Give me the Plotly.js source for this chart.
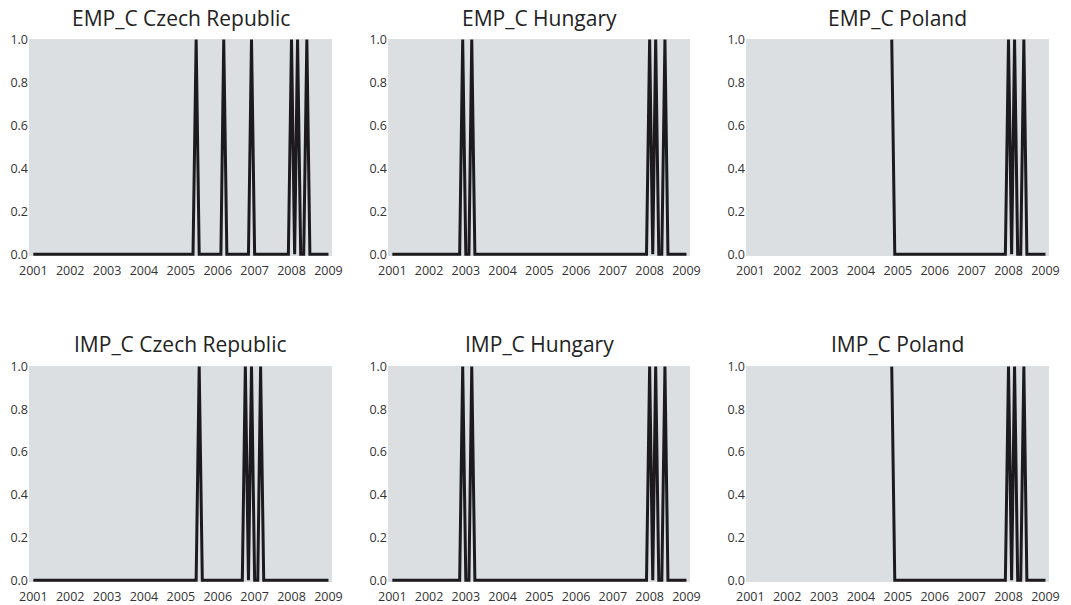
<!DOCTYPE html>
<html>
<head>
<meta charset="utf-8">
<script src="https://cdn.plot.ly/plotly-3.0.1.min.js"></script>
<style>
  html, body { margin: 0; padding: 0; background: #ffffff; }
  #chart { width: 1071px; height: 605px; }
</style>
</head>
<body>
<div id="chart"></div>
<script>
// Monthly crisis indicators (1 = crisis month), Jan 2001 .. Jan 2009, one row per year
const startYear = 2001;
const yearTicks = ['2001', '2002', '2003', '2004', '2005', '2006', '2007', '2008', '2009'];
const yTicks = [0, 0.2, 0.4, 0.6, 0.8, 1.0];

const empCzech = [
  0,0,0,0,0,0,0,0,0,0,0,0,
  0,0,0,0,0,0,0,0,0,0,0,0,
  0,0,0,0,0,0,0,0,0,0,0,0,
  0,0,0,0,0,0,0,0,0,0,0,0,
  0,0,0,0,0,1,0,0,0,0,0,0,
  0,0,1,0,0,0,0,0,0,0,0,1,
  0,0,0,0,0,0,0,0,0,0,0,0,
  1,0,1,0,0,1,0,0,0,0,0,0,
  0
];
const empHungary = [
  0,0,0,0,0,0,0,0,0,0,0,0,
  0,0,0,0,0,0,0,0,0,0,0,1,
  0,0,1,0,0,0,0,0,0,0,0,0,
  0,0,0,0,0,0,0,0,0,0,0,0,
  0,0,0,0,0,0,0,0,0,0,0,0,
  0,0,0,0,0,0,0,0,0,0,0,0,
  0,0,0,0,0,0,0,0,0,0,0,0,
  1,0,1,0,0,1,0,0,0,0,0,0,
  0
];
const empPoland = [
  null,null,null,null,null,null,null,null,null,null,null,null,
  null,null,null,null,null,null,null,null,null,null,null,null,
  null,null,null,null,null,null,null,null,null,null,null,null,
  null,null,null,null,null,null,null,null,null,null,1,0,
  0,0,0,0,0,0,0,0,0,0,0,0,
  0,0,0,0,0,0,0,0,0,0,0,0,
  0,0,0,0,0,0,0,0,0,0,0,0,
  1,0,1,0,0,1,0,0,0,0,0,0,
  0
];
const impCzech = [
  0,0,0,0,0,0,0,0,0,0,0,0,
  0,0,0,0,0,0,0,0,0,0,0,0,
  0,0,0,0,0,0,0,0,0,0,0,0,
  0,0,0,0,0,0,0,0,0,0,0,0,
  0,0,0,0,0,0,1,0,0,0,0,0,
  0,0,0,0,0,0,0,0,0,1,0,1,
  0,0,1,0,0,0,0,0,0,0,0,0,
  0,0,0,0,0,0,0,0,0,0,0,0,
  0
];
const impHungary = [
  0,0,0,0,0,0,0,0,0,0,0,0,
  0,0,0,0,0,0,0,0,0,0,0,1,
  0,0,1,0,0,0,0,0,0,0,0,0,
  0,0,0,0,0,0,0,0,0,0,0,0,
  0,0,0,0,0,0,0,0,0,0,0,0,
  0,0,0,0,0,0,0,0,0,0,0,0,
  0,0,0,0,0,0,0,0,0,0,0,0,
  1,0,1,0,0,1,0,0,0,0,0,0,
  0
];
const impPoland = [
  null,null,null,null,null,null,null,null,null,null,null,null,
  null,null,null,null,null,null,null,null,null,null,null,null,
  null,null,null,null,null,null,null,null,null,null,null,null,
  null,null,null,null,null,null,null,null,null,null,1,0,
  0,0,0,0,0,0,0,0,0,0,0,0,
  0,0,0,0,0,0,0,0,0,0,0,0,
  0,0,0,0,0,0,0,0,0,0,0,0,
  1,0,1,0,0,1,0,0,0,0,0,0,
  0
];

const panelTitles = [
  'EMP_C Czech Republic', 'EMP_C Hungary', 'EMP_C Poland',
  'IMP_C Czech Republic', 'IMP_C Hungary', 'IMP_C Poland'
];
const panelSeries = [empCzech, empHungary, empPoland, impCzech, impHungary, impPoland];

// month-start dates for the series
const months = [];
for (let i = 0; i < empCzech.length; i++) {
  const y = startYear + Math.floor(i / 12);
  const m = (i % 12) + 1;
  months.push(y + '-' + String(m).padStart(2, '0') + '-01');
}

const W = 1071, H = 605;
const colPx = [[29, 332], [388, 690], [746, 1049]];
const rowPx = [[39, 256], [366, 582]];
const titleY = [18, 344];

const FONT = '"Open Sans", "Noto Sans", sans-serif';
const traces = [];
const layout = {
  width: W, height: H,
  margin: {l: 0, r: 0, t: 0, b: 0},
  paper_bgcolor: '#ffffff',
  plot_bgcolor: '#dcdfe2',
  showlegend: false,
  font: {family: FONT, color: '#333333', size: 12},
  annotations: []
};

panelSeries.forEach((vals, k) => {
  const r = Math.floor(k / 3), c = k % 3;
  const n = k + 1;
  const xa = 'x' + (n === 1 ? '' : n), ya = 'y' + (n === 1 ? '' : n);
  traces.push({
    x: months, y: vals, xaxis: xa, yaxis: ya,
    type: 'scatter', mode: 'lines',
    line: {color: '#1c1a1d', width: 3},
    connectgaps: false, hoverinfo: 'skip'
  });
  const xk = 'xaxis' + (n === 1 ? '' : n), yk = 'yaxis' + (n === 1 ? '' : n);
  layout[xk] = {
    domain: [colPx[c][0] / W, colPx[c][1] / W],
    anchor: ya, type: 'date',
    range: ['2000-11-19', '2009-02-05'],
    tickmode: 'array',
    tickvals: yearTicks.map(t => t + '-01-01'),
    ticktext: yearTicks,
    showgrid: false, zeroline: false, showline: false,
    ticks: 'outside', ticklen: 3, tickcolor: 'rgba(0,0,0,0)',
    tickfont: {family: FONT, size: 12.5, color: '#333333'},
    fixedrange: true
  };
  layout[yk] = {
    domain: [1 - rowPx[r][1] / H, 1 - rowPx[r][0] / H],
    anchor: xa,
    range: [-0.008, 1.003],
    tickmode: 'array',
    tickvals: yTicks,
    ticktext: yTicks.map(v => v.toFixed(1)),
    showgrid: false, zeroline: false, showline: false,
    ticks: '', ticklen: 0,
    tickfont: {family: FONT, size: 12.5, color: '#333333'},
    fixedrange: true
  };
  layout.annotations.push({
    text: panelTitles[k],
    xref: 'paper', yref: 'paper',
    x: (colPx[c][0] + colPx[c][1]) / 2 / W,
    y: 1 - titleY[r] / H,
    xanchor: 'center', yanchor: 'middle',
    showarrow: false,
    font: {family: FONT, size: 21, color: '#222222'}
  });
});

Plotly.newPlot('chart', traces, layout, {displayModeBar: false, staticPlot: true});
</script>
</body>
</html>
